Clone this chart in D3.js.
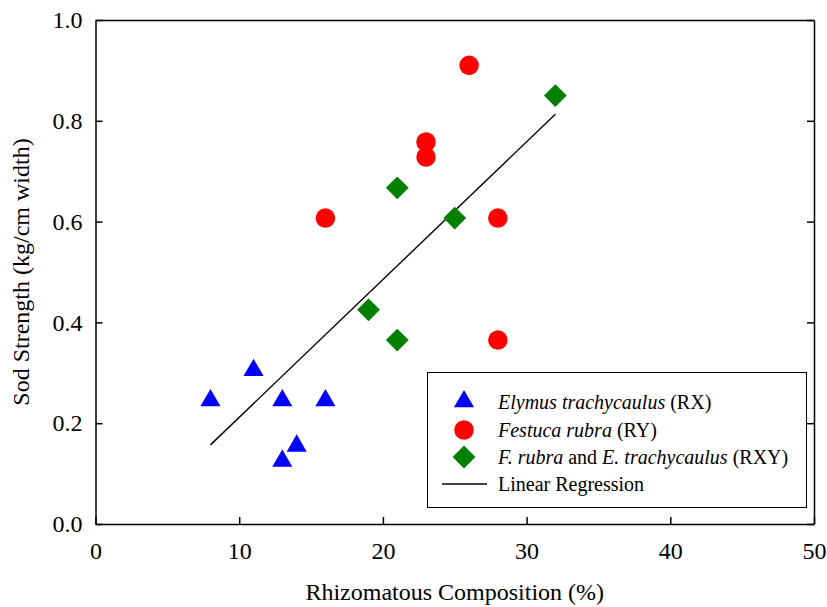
<!DOCTYPE html>
<html><head><meta charset="utf-8">
<script src="https://cdn.jsdelivr.net/npm/d3@7"></script>
<style>body{margin:0;background:#fff}svg{display:block}</style>
</head><body><svg id="c" width="827" height="607"></svg>
<script>
// Data
const rxX = [8, 11, 13, 13, 14, 16];
const rxY = [0.245, 0.305, 0.245, 0.125, 0.155, 0.245];
const ryX = [16, 23, 23, 26, 28, 28];
const ryY = [0.607, 0.758, 0.728, 0.91, 0.607, 0.365];
const rxyX = [19, 21, 21, 25, 32];
const rxyY = [0.425, 0.365, 0.667, 0.607, 0.85];
const regX = [8, 32];
const regY = [0.157, 0.813];
const xTicks = [0, 10, 20, 30, 40, 50];
const yTicks = [0.0, 0.2, 0.4, 0.6, 0.8, 1.0];

const FONT = "'Liberation Serif', 'Times New Roman', serif";
const svg = d3.select("#c");
const L = 95.5, R = 814, T = 20, B = 524;
const x = d3.scaleLinear().domain([0, 50]).range([L, R]);
const y = d3.scaleLinear().domain([0, 1]).range([B, T]);

// axes
const gx = svg.append("g").attr("transform", `translate(0,${B})`)
  .call(d3.axisBottom(x).tickValues(xTicks).tickFormat(d3.format("d")).tickSizeInner(-7).tickSizeOuter(0).tickPadding(18));
const gy = svg.append("g").attr("transform", `translate(${L},0)`)
  .call(d3.axisLeft(y).tickValues(yTicks).tickFormat(d3.format(".1f")).tickSizeInner(-7).tickSizeOuter(0).tickPadding(13));
const gr = svg.append("g").attr("transform", `translate(${R},0)`)
  .call(d3.axisRight(y).tickValues(yTicks).tickFormat("").tickSizeInner(-7).tickSizeOuter(0));
const gt = svg.append("g").attr("transform", `translate(0,${T})`)
  .call(d3.axisTop(x).tickValues([]).tickSizeOuter(0));
[gx, gy, gr, gt].forEach(g => {
  g.attr("font-family", null).attr("font-size", null);
  g.selectAll("path,line").attr("stroke", "#000").attr("stroke-width", 1.5);
  g.selectAll("text").attr("font-family", FONT).attr("font-size", 24).attr("fill", "#000");
});

// regression
svg.append("path")
  .attr("d", d3.line().x(d => x(d[0])).y(d => y(d[1]))(d3.zip(regX, regY)))
  .attr("stroke", "#000").attr("stroke-width", 1.4).attr("fill", "none");

const tri = d3.symbol().type(d3.symbolTriangle).size(175);
const circ = d3.symbol().type(d3.symbolCircle).size(300);
const dia = d3.symbol().type(d3.symbolSquare).size(260);

svg.append("g").selectAll("path").data(d3.zip(rxX, rxY)).join("path")
  .attr("d", tri).attr("fill", "#0000ff")
  .attr("transform", d => `translate(${x(d[0])},${y(d[1])})`);
svg.append("g").selectAll("path").data(d3.zip(ryX, ryY)).join("path")
  .attr("d", circ).attr("fill", "#ff0000")
  .attr("transform", d => `translate(${x(d[0])},${y(d[1])})`);
svg.append("g").selectAll("path").data(d3.zip(rxyX, rxyY)).join("path")
  .attr("d", dia).attr("fill", "#008000")
  .attr("transform", d => `translate(${x(d[0])},${y(d[1])}) rotate(45)`);

// legend
const lg = svg.append("g");
lg.append("rect").attr("x", 427.5).attr("y", 372.5).attr("width", 379).attr("height", 135)
  .attr("fill", "#fff").attr("stroke", "#000").attr("stroke-width", 1);
const rows = [401.5, 430, 457, 484];
const sx = 464, tx = 498;
lg.append("path").attr("d", tri).attr("fill", "#0000ff").attr("transform", `translate(${sx},${rows[0]})`);
lg.append("path").attr("d", circ).attr("fill", "#ff0000").attr("transform", `translate(${sx},${rows[1]})`);
lg.append("path").attr("d", dia).attr("fill", "#008000").attr("transform", `translate(${sx},${rows[2]}) rotate(45)`);
lg.append("line").attr("x1", 442).attr("x2", 487).attr("y1", rows[3]).attr("y2", rows[3]).attr("stroke", "#000").attr("stroke-width", 1.4);
const items = [
  [["Elymus trachycaulus", true], [" (RX)", false]],
  [["Festuca rubra", true], [" (RY)", false]],
  [["F. rubra", true], [" and ", false], ["E. trachycaulus", true], [" (RXY)", false]],
  [["Linear Regression", false]]
];
items.forEach((parts, i) => {
  const t = lg.append("text").attr("x", tx).attr("y", rows[i]).attr("dy", "0.35em")
    .attr("font-family", FONT).attr("font-size", 20).attr("fill", "#000");
  parts.forEach(p => t.append("tspan").text(p[0]).attr("font-style", p[1] ? "italic" : "normal"));
});

// titles
svg.append("text").attr("x", (L + R) / 2).attr("y", 600).attr("text-anchor", "middle")
  .attr("font-family", FONT).attr("font-size", 24).attr("fill", "#000")
  .text("Rhizomatous Composition (%)");
svg.append("text").attr("transform", `translate(29,${(T + B) / 2}) rotate(-90)`).attr("text-anchor", "middle")
  .attr("font-family", FONT).attr("font-size", 24).attr("fill", "#000")
  .text("Sod Strength (kg/cm width)");
</script></body></html>
